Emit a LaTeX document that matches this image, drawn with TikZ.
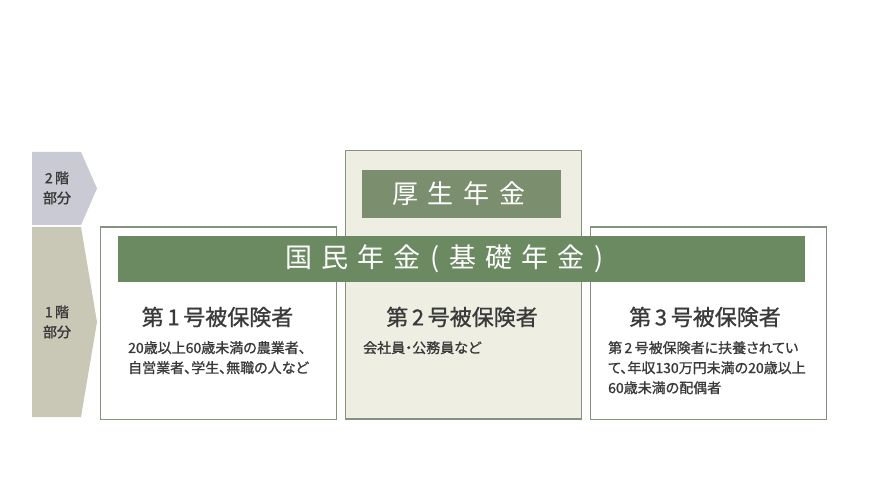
\documentclass[tikz,border=0pt]{standalone}
\usepackage{fontspec}
\newfontfamily\jp{Noto Sans CJK JP}
\newfontfamily\jptitle[FakeBold=0.9]{Noto Sans CJK JP}
\newfontfamily\jpdesc[FakeBold=1.1,RawFeature=+palt]{Noto Sans CJK JP}
\newfontfamily\jpside[FakeBold=1.6]{Noto Sans CJK JP}
\newfontfamily\jpspb[LetterSpace=37]{Noto Sans CJK JP}
\newcommand\kch[1]{\makebox[36pt][c]{#1}}
\newcommand\kpa[1]{\makebox[20pt][c]{#1}}
\definecolor{txt}{HTML}{3A3A3A}
\definecolor{grayarrow}{HTML}{C9CAD3}
\definecolor{beigearrow}{HTML}{C9C8B7}
\definecolor{bargreen}{HTML}{6C8A62}
\definecolor{barlight}{HTML}{7B8F6F}
\definecolor{boxline}{HTML}{84937F}
\definecolor{boxfill}{HTML}{EEEFE2}
\begin{document}
\begin{tikzpicture}[x=1pt,y=-1pt,
  boxst/.style={draw=boxline,line width=1.5pt},
  titlest/.style={text=txt,font=\jptitle\fontsize{22}{24}\selectfont,inner sep=0pt},
  descst/.style={text=txt,font=\jpdesc\fontsize{14}{20}\selectfont,align=left,inner sep=0pt},
  sidest/.style={text=txt,font=\jpside\fontsize{14}{20}\selectfont,align=center,inner sep=0pt},
  bartext/.style={text=white,inner sep=0pt}
]
\useasboundingbox (0,0) rectangle (870,489);
\fill[white] (0,0) rectangle (870,489);
% side chevrons
\fill[grayarrow] (32,152) -- (81,152) -- (97,188.5) -- (81,225) -- (32,225) -- cycle;
\fill[beigearrow] (32,227) -- (81,227) -- (97,322) -- (81,417) -- (32,417) -- cycle;
\node[sidest] (lv2) at (57,188) {2\,階\\部分};
\node[sidest] (lv1) at (57,322) {1\,階\\部分};
% boxes
\node[boxst,fill=white,minimum width=236pt,minimum height=192pt,anchor=north west,inner sep=0pt] (b1) at (99.5,226.5) {};
\node[boxst,fill=boxfill,minimum width=236pt,minimum height=268pt,anchor=north west,inner sep=0pt] (b2) at (344.5,150) {};
\node[boxst,fill=white,minimum width=236pt,minimum height=192pt,anchor=north west,inner sep=0pt] (b3) at (589.5,226.5) {};
% bars
\node[fill=barlight,minimum width=199pt,minimum height=48pt,anchor=north west,inner sep=0pt] (kosei) at (362,169.5) {};
\node[bartext,font=\jpspb\fontsize{26}{28}\selectfont,anchor=west] (koseit) at (392,193.5) {厚生年金};
\node[fill=bargreen,minimum width=687pt,minimum height=46pt,anchor=north west,inner sep=0pt] (kokumin) at (118,236) {};
\node[bartext,font=\jp\fontsize{27}{30}\selectfont,anchor=west] (kokumint) at (280.5,259) {\kch{国}\kch{民}\kch{年}\kch{金}\kpa{(}\kch{基}\kch{礎}\kch{年}\kch{金}\kpa{)}};
% titles
\node[titlest] (t1) at (217.5,317) {第\,1\,号被保険者};
\node[titlest] (t2) at (462,317) {第\,2\,号被保険者};
\node[titlest] (t3) at (705,317) {第\,3\,号被保険者};
% descriptions
\node[descst,anchor=north west] (d1) at (128,341) {20歳以上60歳未満の農業者、\\自営業者、学生、無職の人など};
\node[descst,anchor=north west] (d2) at (363,341) {会社員・公務員など};
\node[descst,anchor=north west] (d3) at (608,341) {第\,2\,号被保険者に扶養されてい\\て、年収130万円未満の20歳以上\\60歳未満の配偶者};
\end{tikzpicture}
\end{document}
